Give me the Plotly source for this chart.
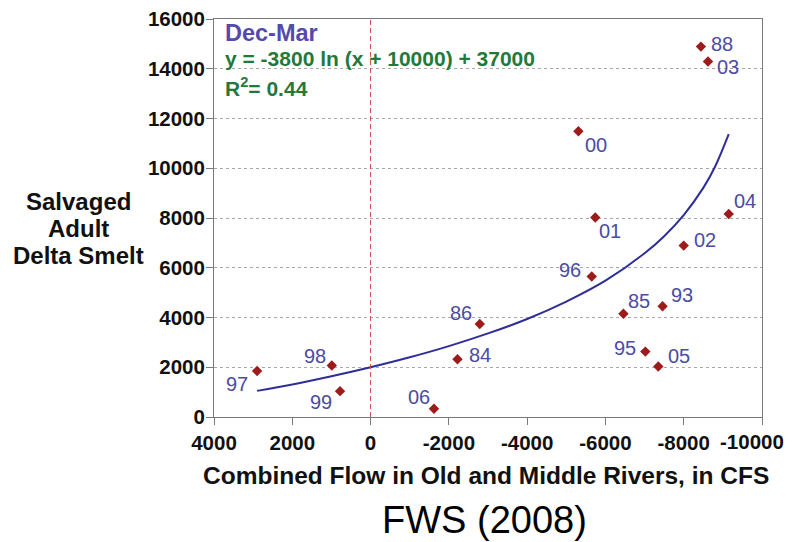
import plotly.graph_objects as go

# ---- data ----
years = ["97", "98", "99", "06", "84", "86", "00", "01", "96", "85", "93", "95", "05", "02", "04", "88", "03"]
flow = [2900, 990, 780, -1620, -2220, -2790, -5310, -5740, -5650, -6460, -7460, -7020, -7350, -8000, -9150, -8440, -8620]
smelt = [1850, 2070, 1040, 330, 2320, 3740, 11490, 8020, 5650, 4150, 4450, 2630, 2030, 6890, 8160, 14890, 14290]

# trend curve
curve_x = [2900, 2000, 1000, 0, -1000, -2000, -3000, -4000, -5000, -6000, -7000, -7500, -8000, -8500, -8800, -9150]
curve_y = [1050, 1310, 1640, 2000, 2400, 2850, 3360, 3940, 4640, 5480, 6580, 7270, 8120, 9210, 10060, 11370]

x_ticks = [4000, 2000, 0, -2000, -4000, -6000, -8000, -10000]
y_ticks = [0, 2000, 4000, 6000, 8000, 10000, 12000, 14000, 16000]

y_title_lines = ["Salvaged", "Adult", "Delta Smelt"]

# label offsets (pixels) for each year label
label_dx = [-20, -17, -19, -15, 23, -19, 18, 15, -22, 16, 19, -20, 21, 21, 16, 21, 20]
label_dy = [-13, 10, -11, 12, 4, 11, -14, -13, 6, 13, 11, 4, 11, 6, 13, 3, -5]

FONT = "Liberation Sans, Arial, Helvetica, sans-serif"
LABEL_C = "#4B4BA3"
TICKFONT = dict(family=FONT, size=20.5, color="#111111", weight="bold")

fig = go.Figure()

fig.add_trace(go.Scatter(
    x=curve_x, y=curve_y, mode="lines", line=dict(color="#2E2E98", width=2, shape="spline"),
    hoverinfo="skip", showlegend=False))

fig.add_trace(go.Scatter(
    x=flow, y=smelt, mode="markers",
    marker=dict(symbol="diamond", size=8, color="#9E1B1B"),
    showlegend=False))

# vertical red dashed line at zero
fig.add_shape(type="line", x0=0, x1=0, y0=0, y1=16000, xref="x", yref="y",
              line=dict(color="#D24A4A", width=1, dash="5px,3px"))

for yr, xv, yv, dx, dy in zip(years, flow, smelt, label_dx, label_dy):
    fig.add_annotation(x=xv, y=yv, text=yr, showarrow=False, xshift=dx, yshift=dy,
                       font=dict(family=FONT, size=20, color=LABEL_C))

fig.add_annotation(xref="paper", yref="paper", x=0.0164, y=0.9656, xanchor="left", yanchor="middle",
                   text="<b>Dec-Mar</b>", showarrow=False,
                   font=dict(family=FONT, size=23.5, color="#5549AE"))
fig.add_annotation(xref="paper", yref="paper", x=0.0164, y=0.8995, xanchor="left", yanchor="middle",
                   text="<b>y = -3800 ln (x + 10000) + 37000</b>", showarrow=False,
                   font=dict(family=FONT, size=21, color="#1F7A3C"))
fig.add_annotation(xref="paper", yref="paper", x=0.0164, y=0.829, xanchor="left", yanchor="middle",
                   text="<b>R<sup>2</sup>= 0.44</b>", showarrow=False,
                   font=dict(family=FONT, size=21, color="#1F7A3C"))

# last x tick label drawn right-aligned so it stays inside the page
fig.add_annotation(xref="x", yref="paper", x=x_ticks[-1], y=1 - (441 - 19) / 398, xshift=24,
                   xanchor="right", yanchor="middle", text=str(x_ticks[-1]), showarrow=False,
                   font=TICKFONT)

# axis titles
for line_text, py in zip(y_title_lines, [201.7, 228.3, 255.0]):
    fig.add_annotation(xref="paper", yref="paper", x=-0.2473, y=1 - (py - 19) / 398,
                       xanchor="center", yanchor="middle",
                       text="<b>" + line_text + "</b>", showarrow=False,
                       font=dict(family=FONT, size=24, color="#111111"))
fig.add_annotation(xref="paper", yref="paper", x=0.497, y=-0.148, xanchor="center", yanchor="middle",
                   text="<b>Combined Flow in Old and Middle Rivers, in CFS</b>", showarrow=False,
                   font=dict(family=FONT, size=24.5, color="#111111"))
fig.add_annotation(xref="paper", yref="paper", x=0.4945, y=-0.2588, xanchor="center", yanchor="middle",
                   text="FWS (2008)", showarrow=False,
                   font=dict(family=FONT, size=38, color="#000000"))

fig.update_xaxes(range=[4000, -10000], tickvals=x_ticks,
                 ticktext=[str(v) for v in x_ticks[:-1]] + [""],
                 showgrid=False, zeroline=False, showline=True, linecolor="#7A7A7A", linewidth=1,
                 mirror=True, ticks="outside", ticklen=7, tickcolor="#7A7A7A", automargin=False,
                 tickfont=TICKFONT)
fig.update_yaxes(range=[0, 16000], tickvals=y_ticks, ticktext=[str(v) for v in y_ticks],
                 showgrid=True, gridcolor="#A8A8A8", griddash="dot", gridwidth=1,
                 zeroline=False, showline=True, linecolor="#7A7A7A", linewidth=1,
                 mirror=True, ticks="outside", ticklen=7, tickcolor="#7A7A7A", automargin=False,
                 ticklabelstandoff=-3, tickfont=TICKFONT)

fig.update_layout(width=792, height=542, margin=dict(l=214, r=30, t=19, b=125),
                  plot_bgcolor="white", paper_bgcolor="white", showlegend=False)

fig.write_html("out.html")
